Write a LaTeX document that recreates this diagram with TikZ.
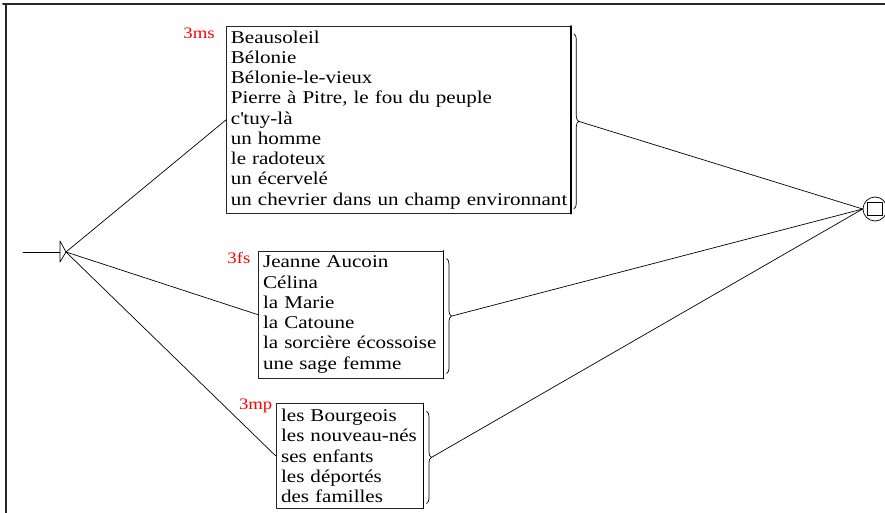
\documentclass[tikz,border=0pt]{standalone}
\usepackage{fontspec}
\setmainfont{Liberation Serif}[FakeStretch=1.17]
\usetikzlibrary{calc}
\usetikzlibrary{positioning}
\usetikzlibrary{decorations.pathreplacing}

\newcommand{\boxfont}{\fontsize{18}{20.25}\selectfont\hyphenpenalty=10000}
\newcommand{\tagfont}{\fontsize{16}{18}\selectfont}

\tikzset{
  seq/.style={draw=black!85, line width=0.8pt, anchor=north west, align=left,
    font=\boxfont, inner xsep=5pt, inner ysep=0pt},
  tag/.style={text=red, font=\tagfont, anchor=base east, inner sep=0pt},
  bar/.style={line width=1.6pt},
  brc/.style={decorate, decoration={brace, amplitude=5pt}, line width=0.7pt},
}

\begin{document}
\begin{tikzpicture}[line cap=round,line join=round,x=1pt,y=-1pt,line width=0.7pt]
\useasboundingbox (0,0) rectangle (885,513);
% frame
\draw[black!85, line width=2pt] (3,4.5) -- (885,4.5);
\draw[black!85, line width=2pt] (5.5,4.5) -- (5.5,513);
% initial state
\coordinate (start) at (23,252);
\coordinate (tb) at (60,252);
\coordinate (init) at (66,252);
\draw (start) -- (tb);
\draw ($(tb)+(0,-11)$) -- (init) -- ($(tb)+(0,10)$) -- cycle;
% final state
\node[draw, circle, minimum size=24pt, inner sep=0pt] (fin) at (875,209) {};
\node[draw, minimum width=15pt, minimum height=13pt, inner sep=0pt] (finbox) at (fin) {};
% boxes
\node[seq, inner xsep=4.5pt, text width=335pt, minimum height=187pt] (ms) at (226,26)
  {Beausoleil\\Bélonie\\Bélonie-le-vieux\\Pierre à Pitre, le fou du peuple\\c\textquotesingle tuy-là\\un homme\\le radoteux\\un écervelé\\\mbox{un chevrier dans un champ environnant}};
\node[seq, text width=175pt, minimum height=127pt] (fs) at (257.7,250.7)
  {Jeanne Aucoin\\Célina\\la Marie\\la Catoune\\la sorcière écossoise\\une sage femme};
\node[seq, text width=137pt, minimum height=104.4pt] (mp) at (275.7,403.3)
  {les Bourgeois\\les nouveau-nés\\ses enfants\\les déportés\\des familles};
% tags
\node[tag] (lms) at ($(ms.north west)+(-11,12.5)$) {3ms};
\node[tag] (lfs) at ($(fs.north west)+(-7,12.5)$) {3fs};
\node[tag] (lmp) at ($(mp.north west)+(-3,6)$) {3mp};
% right edges and braces
\foreach \b in {ms,fs,mp}{
  \draw[bar] (\b.north east) -- (\b.south east);
  \draw[brc] ($(\b.north east)+(3,8)$) -- ($(\b.south east)+(3,-5)$);
  \coordinate (\b-out) at ($(\b.north east)!0.5!(\b.south east)+(8,1.5)$);
}
% transitions
\draw (init) -- (ms.west);
\draw (init) -- (fs.west);
\draw (init) -- (mp.west);
\draw (ms-out) -- (fin.west);
\draw (fs-out) -- (fin.west);
\draw (mp-out) -- (fin.west);
\end{tikzpicture}
\end{document}
